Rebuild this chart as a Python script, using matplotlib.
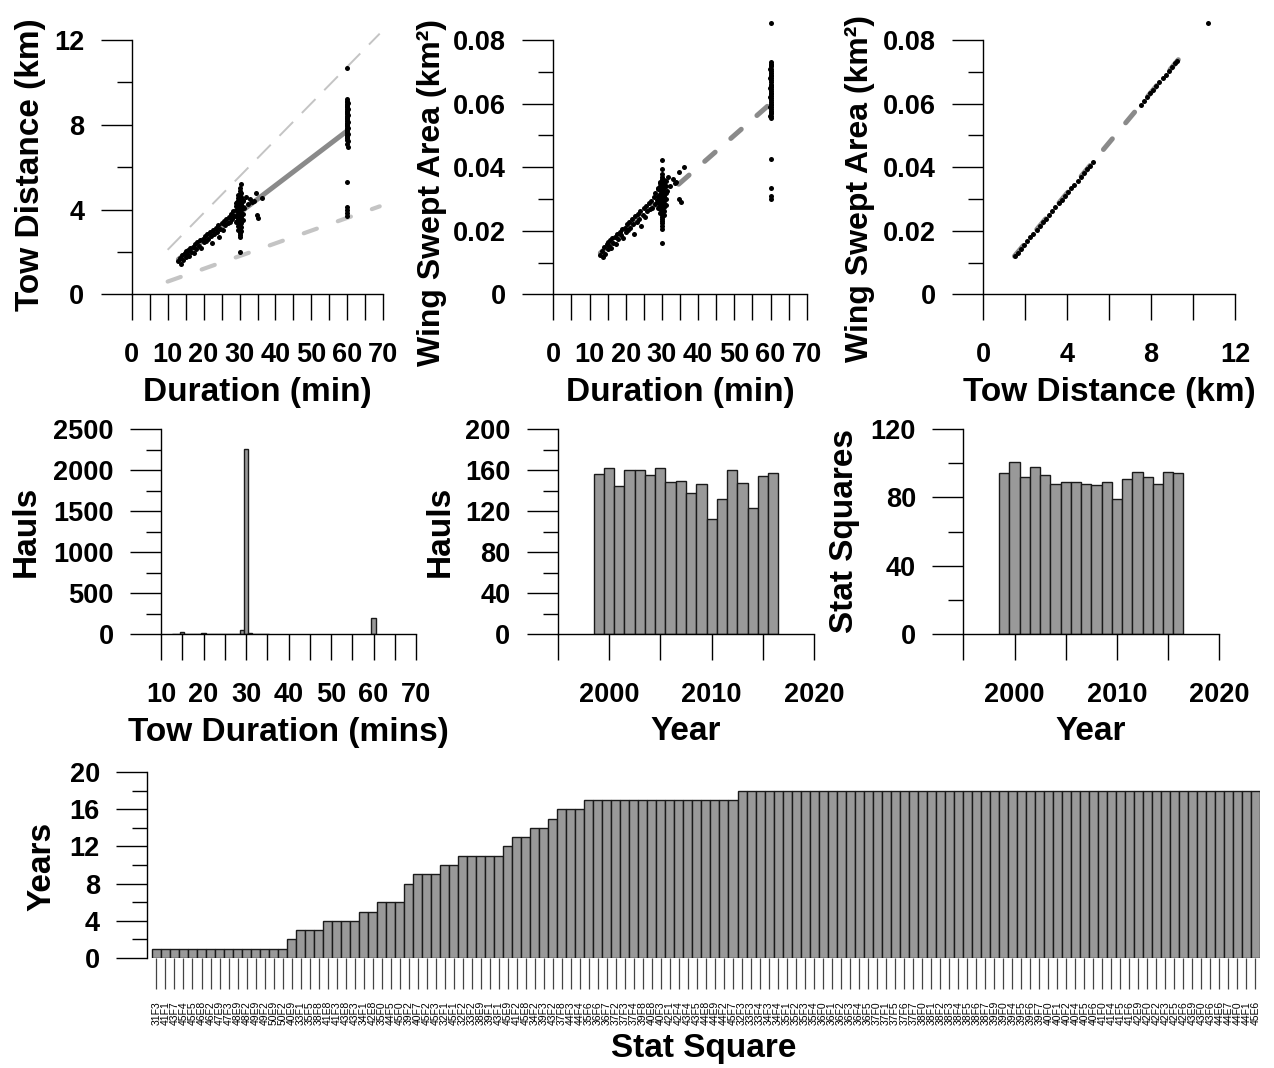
import matplotlib

matplotlib.use("Agg")
import matplotlib.pyplot as plt

FIG_W, FIG_H = 1274, 1068
BAR_FILL = "#999999"
BAR_EDGE = "#1a1a1a"
FIT_GREY = "#8a8a8a"
BOUND_GREY = "#c4c4c4"

# ---- hauls of 13-36 min: duration, tow distance and wing swept area ----
trend_minutes = [13.0, 13.4, 13.8, 14.0, 14.3, 14.7, 15.0, 15.0, 15.4, 15.8, 16.0, 16.3, 16.6,
                 17.0, 17.2, 17.6, 18.0, 18.3, 18.7, 19.0, 19.3, 19.7, 20.0, 20.3, 20.6, 21.0,
                 21.3, 21.7, 22.0, 22.4, 22.7, 23.0, 23.4, 23.8, 24.0, 24.3, 24.7, 25.0, 25.3,
                 25.7, 26.0, 26.3, 26.7, 27.0, 27.3, 27.7, 28.0, 28.2, 28.6, 28.9, 29.2, 29.4,
                 31.0, 31.3, 31.8, 32.3, 34.8, 33.0, 33.5, 34.6, 34.0, 35.2, 36.2]
trend_km = [1.55, 1.70, 1.45, 1.85, 1.60, 1.95, 1.75, 2.05, 1.90, 2.10, 1.80, 2.20, 2.00,
            2.25, 1.95, 2.35, 2.15, 2.45, 2.30, 2.55, 2.20, 2.60, 2.45, 2.75, 2.50, 2.85,
            2.60, 2.95, 2.75, 2.40, 3.05, 2.85, 3.15, 2.95, 3.25, 2.70, 3.10, 3.35, 3.05,
            3.45, 3.25, 3.55, 3.35, 3.65, 3.40, 3.80, 3.55, 3.95, 3.70, 4.15, 3.45, 4.35,
            4.45, 4.05, 4.60, 4.25, 3.75, 4.50, 4.35, 4.80, 4.40, 3.60, 4.55]
trend_area = [0.0124, 0.0136, 0.0118, 0.0150, 0.0128, 0.0157, 0.0141, 0.0163, 0.0152, 0.0170,
              0.0145, 0.0178, 0.0160, 0.0181, 0.0158, 0.0190, 0.0173, 0.0197, 0.0186, 0.0205,
              0.0177, 0.0210, 0.0196, 0.0221, 0.0202, 0.0229, 0.0209, 0.0238, 0.0220, 0.0190,
              0.0246, 0.0228, 0.0254, 0.0236, 0.0262, 0.0216, 0.0249, 0.0270, 0.0244, 0.0278,
              0.0261, 0.0286, 0.0268, 0.0294, 0.0272, 0.0306, 0.0284, 0.0318, 0.0297, 0.0334,
              0.0276, 0.0350, 0.0358, 0.0324, 0.0370, 0.0342, 0.0300, 0.0362, 0.0349, 0.0386,
              0.0353, 0.0290, 0.0400]

# hauls of ~30 min, stacked in narrow columns
col30_minutes = [29.0, 29.5, 30.0, 30.5, 31.0]
col30_km = [
    [3.40, 3.70, 4.00, 4.30],
    [3.05, 3.20, 3.35, 3.50, 3.62, 3.75, 3.88, 3.90, 4.00, 4.12, 4.25, 4.40, 4.55, 4.70],
    [2.00, 2.72, 2.80, 2.88, 2.95, 3.02, 3.10, 3.17, 3.25, 3.33, 3.40, 3.48, 3.55, 3.63, 3.70,
     3.78, 3.85, 3.93, 4.00, 4.08, 4.16, 4.24, 4.33, 4.42, 4.52, 4.63, 4.75, 4.88, 5.00],
    [3.00, 3.18, 3.35, 3.52, 3.60, 3.68, 3.82, 3.96, 4.10, 4.25, 4.40, 4.58, 4.76, 5.20],
    [3.50, 3.80, 4.10, 4.40],
]
col30_area = [
    [0.0270, 0.0290, 0.0310, 0.0330],
    [0.0255, 0.0268, 0.0280, 0.0292, 0.0304, 0.0316, 0.0328, 0.0340, 0.0352],
    [0.0162, 0.0205, 0.0215, 0.0225, 0.0232, 0.0238, 0.0244, 0.0250, 0.0256, 0.0262, 0.0268,
     0.0274, 0.0280, 0.0286, 0.0292, 0.0298, 0.0304, 0.0310, 0.0316, 0.0322, 0.0328, 0.0334,
     0.0340, 0.0347, 0.0354, 0.0362, 0.0370, 0.0378, 0.0395, 0.0422],
    [0.0250, 0.0262, 0.0274, 0.0286, 0.0298, 0.0310, 0.0322, 0.0334, 0.0346, 0.0360],
    [0.0280, 0.0300, 0.0320, 0.0340],
]

# hauls of ~60 min
col60_minutes = [59.8, 60.0, 60.2]
col60_km = [
    [7.10, 7.40, 7.70, 8.00, 8.30, 8.60, 8.90],
    [3.70, 3.85, 4.00, 4.10, 5.30, 7.30, 7.38, 7.46, 7.54, 7.62, 7.70, 7.78, 7.86, 7.94, 8.02,
     8.10, 8.18, 8.26, 8.34, 8.42, 8.50, 8.58, 8.66, 8.74, 8.82, 8.90, 8.98, 9.06, 9.14, 9.20,
     10.70],
    [6.95, 7.25, 7.55, 7.85, 8.15, 8.45, 8.75, 9.05],
]
col60_area = [
    [0.0560, 0.0590, 0.0620, 0.0650, 0.0680, 0.0710],
    [0.0300, 0.0309, 0.0334, 0.0427, 0.0555, 0.0562, 0.0569, 0.0576, 0.0583, 0.0590, 0.0597,
     0.0604, 0.0611, 0.0618, 0.0625, 0.0632, 0.0639, 0.0646, 0.0653, 0.0660, 0.0667, 0.0674,
     0.0681, 0.0688, 0.0695, 0.0702, 0.0710, 0.0718, 0.0726, 0.0732, 0.0855],
    [0.0570, 0.0600, 0.0630, 0.0660, 0.0690, 0.0720],
]

# fitted and bounding lines
fit_minutes = [13.0, 60.0]
fit_km = [1.65, 7.72]
fit_area = [0.0130, 0.0600]
bound_minutes = [10.0, 69.0]
upper_km = [2.10, 12.30]
lower_km = [0.60, 4.15]

# swept area against tow distance
dist_km = [1.50, 1.65, 1.80, 1.95, 2.10, 2.25, 2.40, 2.55, 2.70, 2.85, 3.00, 3.15, 3.30, 3.45,
           3.60, 3.75, 3.90, 4.05, 4.20, 4.35, 4.50, 4.65, 4.80, 4.95, 5.10, 5.25,
           7.50, 7.65, 7.80, 7.95, 8.10, 8.25, 8.40, 8.55, 8.70, 8.85, 9.00, 9.15, 9.25, 10.70]
dist_area = [0.0120, 0.0131, 0.0143, 0.0155, 0.0167, 0.0179, 0.0191, 0.0203, 0.0214, 0.0226,
             0.0238, 0.0250, 0.0262, 0.0274, 0.0286, 0.0298, 0.0310, 0.0322, 0.0334, 0.0345,
             0.0357, 0.0369, 0.0381, 0.0393, 0.0405, 0.0417,
             0.0596, 0.0608, 0.0620, 0.0632, 0.0644, 0.0656, 0.0667, 0.0679, 0.0691, 0.0703,
             0.0715, 0.0727, 0.0735, 0.0855]
dist_fit_km = [1.50, 9.30]
dist_fit_area = [0.0120, 0.0738]

# tow duration histogram
hist_minutes = [13, 14, 15, 16, 17, 18, 19, 20, 21, 22, 23, 24, 25, 26, 27, 28, 29, 30,
                31, 32, 33, 34, 35, 60]
hist_hauls = [3, 6, 32, 8, 6, 5, 4, 12, 5, 6, 4, 5, 9, 5, 6, 8, 50, 2260, 10, 6, 4, 3, 2, 203]

# per-year counts
years = [1999, 2000, 2001, 2002, 2003, 2004, 2005, 2006, 2007, 2008, 2009, 2010, 2011, 2012,
         2013, 2014, 2015, 2016]
hauls_per_year = [156, 162, 144, 160, 160, 155, 162, 148, 149, 138, 146, 112, 132, 160, 147,
                  123, 154, 157]
squares_per_year = [94, 101, 92, 98, 93, 88, 89, 89, 88, 87, 89, 79, 91, 95, 92, 88, 95, 94]

# years in which each ICES statistical square was sampled
stat_squares = [
    "31F3", "41F1", "43F7", "45F4", "45F5", "46E8", "46F2", "47E9", "47F3", "48E9", "48F2",
    "49E9", "49F2", "50E9", "50F2", "40E9", "33F1", "35F5", "38F8", "41E8", "41F3", "43E8",
    "43F3", "34F1", "42E8", "35F0", "44F5", "45F0", "39F2", "40F7", "45F2", "45F3", "32F1",
    "45F1", "32F2", "33F2", "38E9", "39F1", "43F1", "45E9", "41F2", "45E8", "34F2", "39F3",
    "43F2", "37F8", "44F3", "44F4", "35F6", "36F6", "36F7", "37F2", "37F3", "37F4", "39F8",
    "40E8", "40F3", "42F1", "42F4", "43F4", "43F5", "44E8", "44E9", "44F2", "45F7",
    "32F3", "33F3", "33F4", "34F3", "34F4", "35F1", "35F2", "35F3", "35F4", "36F0", "36F1",
    "36F2", "36F3", "36F4", "36F5", "37F0", "37F1", "37F5", "37F6", "37F7", "38F0", "38F1",
    "38F2", "38F3", "38F4", "38F5", "38F6", "38F7", "39E9", "39F0", "39F4", "39F5", "39F6",
    "39F7", "40F0", "40F1", "40F2", "40F4", "40F5", "40F6", "41F0", "41F4", "41F5", "41F6",
    "42E9", "42F0", "42F2", "42F3", "42F5", "42F6", "43E9", "43F0", "43F6", "44E6", "44E7",
    "44F0", "44F1", "45E6",
]
years_sampled = [
    1, 1, 1, 1, 1, 1, 1, 1, 1, 1, 1, 1, 1, 1, 1, 2, 3, 3, 3, 4, 4, 4, 4, 5, 5, 6, 6, 6, 8,
    9, 9, 9, 10, 10, 11, 11, 11, 11, 11, 12, 13, 13, 14, 14, 15, 16, 16, 16,
    17, 17, 17, 17, 17, 17, 17, 17, 17, 17, 17, 17, 17, 17, 17, 17, 17,
    18, 18, 18, 18, 18, 18, 18, 18, 18, 18, 18, 18, 18, 18, 18, 18, 18, 18, 18, 18,
    18, 18, 18, 18, 18, 18, 18, 18, 18, 18, 18, 18, 18, 18, 18, 18, 18, 18, 18, 18,
    18, 18, 18, 18, 18, 18, 18, 18, 18, 18, 18, 18, 18, 18, 18, 18, 18, 18,
]


def px_axes(fig, left, right, top, bottom):
    return fig.add_axes([left / FIG_W, 1 - bottom / FIG_H, (right - left) / FIG_W, (bottom - top) / FIG_H])


def px_text(fig, x, y, text, rotation=0, size=24):
    fig.text(x / FIG_W, 1 - y / FIG_H, text, ha="center", va="center", rotation=rotation,
             fontsize=size, fontweight="bold")


def r_axes(ax, xlim, ylim, xmajor, xlabels, xminor, ymajor, ylabels, yminor):
    ax.set_xlim(*xlim)
    ax.set_ylim(*ylim)
    ax.spines["top"].set_visible(False)
    ax.spines["right"].set_visible(False)
    for side in ("left", "bottom"):
        ax.spines[side].set_linewidth(1.0)
    ax.set_xticks(xmajor, xlabels)
    ax.set_xticks(xminor, minor=True)
    ax.set_yticks(ymajor, ylabels)
    ax.set_yticks(yminor, minor=True)
    ax.tick_params(axis="y", which="major", length=22, width=1.0, pad=12, labelsize=19.5)
    ax.tick_params(axis="y", which="minor", length=11, width=1.0)
    ax.tick_params(axis="x", which="both", length=19, width=1.0, pad=15, labelsize=19.5)


def scatter(ax, x, y):
    ax.plot(x, y, "o", ms=3.6, color="black", mec="none", clip_on=False, zorder=3)


plt.rcParams["font.family"] = ["Liberation Sans", "DejaVu Sans"]
plt.rcParams["font.weight"] = "bold"
plt.rcParams["lines.scale_dashes"] = False

fig = plt.figure(figsize=(FIG_W / 100, FIG_H / 100), dpi=100)

minute_ticks = [0, 10, 20, 30, 40, 50, 60, 70]
minute_minor = [5, 15, 25, 35, 45, 55, 65]

# duration vs tow distance
ax1 = px_axes(fig, 131.7, 383.3, 40, 294.3)
ax1.plot(bound_minutes, upper_km, color=BOUND_GREY, lw=1.4, dashes=(14, 9), clip_on=False)
ax1.plot(bound_minutes, lower_km, color=BOUND_GREY, lw=3.0, dashes=(10, 16), dash_capstyle="round")
ax1.plot(fit_minutes, fit_km, color=FIT_GREY, lw=3.6, solid_capstyle="round")
scatter(ax1, trend_minutes, trend_km)
for m, ys in zip(col30_minutes, col30_km):
    scatter(ax1, [m] * len(ys), ys)
for m, ys in zip(col60_minutes, col60_km):
    scatter(ax1, [m] * len(ys), ys)
r_axes(ax1, (0, 70), (0, 12), minute_ticks, [str(v) for v in minute_ticks], minute_minor,
       [0, 4, 8, 12], ["0", "4", "8", "12"], [2, 6, 10])
px_text(fig, 257, 392, "Duration (min)")
px_text(fig, 31, 165, "Tow Distance (km)", rotation=90)

# duration vs swept area
ax2 = px_axes(fig, 553.3, 806.7, 40, 294.3)
ax2.plot(fit_minutes, fit_area, color=FIT_GREY, lw=3.6, dashes=(10, 15), dash_capstyle="round")
scatter(ax2, trend_minutes, trend_area)
for m, ys in zip(col30_minutes, col30_area):
    scatter(ax2, [m] * len(ys), ys)
for m, ys in zip(col60_minutes, col60_area):
    scatter(ax2, [m] * len(ys), ys)
r_axes(ax2, (0, 70), (0, 0.08), minute_ticks, [str(v) for v in minute_ticks], minute_minor,
       [0, 0.02, 0.04, 0.06, 0.08], ["0", "0.02", "0.04", "0.06", "0.08"], [0.01, 0.03, 0.05, 0.07])
px_text(fig, 680, 392, "Duration (min)")
px_text(fig, 432, 192, "Wing Swept Area (km²)", rotation=90, size=23)

# tow distance vs swept area
ax3 = px_axes(fig, 983, 1235, 40, 294.3)
ax3.plot(dist_fit_km, dist_fit_area, color=FIT_GREY, lw=3.6, dashes=(10, 15), dash_capstyle="round")
scatter(ax3, dist_km, dist_area)
r_axes(ax3, (0, 12), (0, 0.08), [0, 4, 8, 12], ["0", "4", "8", "12"], [2, 6, 10],
       [0, 0.02, 0.04, 0.06, 0.08], ["0", "0.02", "0.04", "0.06", "0.08"], [0.01, 0.03, 0.05, 0.07])
px_text(fig, 1109, 392, "Tow Distance (km)")
px_text(fig, 860, 188, "Wing Swept Area (km²)", rotation=90, size=23)

# tow duration histogram
ax4 = px_axes(fig, 161, 416, 429, 634.3)
ax4.bar(hist_minutes, hist_hauls, width=1.0, color=BAR_FILL, edgecolor=BAR_EDGE, linewidth=1.0)
r_axes(ax4, (10, 70), (0, 2500), [10, 20, 30, 40, 50, 60, 70],
       ["10", "20", "30", "40", "50", "60", "70"], [15, 25, 35, 45, 55, 65],
       [0, 500, 1000, 1500, 2000, 2500], ["0", "500", "1000", "1500", "2000", "2500"],
       [250, 750, 1250, 1750, 2250])
px_text(fig, 288, 732, "Tow Duration (mins)")
px_text(fig, 26, 531, "Hauls", rotation=90)

year_ticks = [2000, 2010, 2020]
year_minor = [1995, 2005, 2015]

# hauls per year
ax5 = px_axes(fig, 557.7, 814.3, 429, 634.3)
ax5.bar(years, hauls_per_year, width=1.0, color=BAR_FILL, edgecolor=BAR_EDGE, linewidth=1.0)
r_axes(ax5, (1995, 2020), (0, 200), year_ticks, ["2000", "2010", "2020"], year_minor,
       [0, 40, 80, 120, 160, 200], ["0", "40", "80", "120", "160", "200"], [20, 60, 100, 140, 180])
px_text(fig, 686, 732, "Year")
px_text(fig, 440, 531, "Hauls", rotation=90)

# stat squares per year
ax6 = px_axes(fig, 963.3, 1219.3, 429, 634.3)
ax6.bar(years, squares_per_year, width=1.0, color=BAR_FILL, edgecolor=BAR_EDGE, linewidth=1.0)
r_axes(ax6, (1995, 2020), (0, 120), year_ticks, ["2000", "2010", "2020"], year_minor,
       [0, 40, 80, 120], ["0", "40", "80", "120"], [20, 60, 100])
px_text(fig, 1091, 732, "Year")
px_text(fig, 845, 531, "Stat Squares", rotation=90)

# years sampled per stat square
ax7 = px_axes(fig, 147, 1260, 772, 958)
positions = list(range(len(stat_squares)))
ax7.bar(positions, years_sampled, width=1.0, color=BAR_FILL, edgecolor=BAR_EDGE, linewidth=1.0)
r_axes(ax7, (-1.05, len(stat_squares) - 0.5), (0, 20), positions, stat_squares, [],
       [0, 4, 8, 12, 16, 20], ["0", "4", "8", "12", "16", "20"], [2, 6, 10, 14, 18])
ax7.spines["bottom"].set_visible(False)
ax7.tick_params(axis="x", which="major", length=22, width=0.9, color="#444444", pad=9,
                labelsize=7.5, labelrotation=90)
for label in ax7.get_xticklabels():
    label.set_fontweight("normal")
px_text(fig, 704, 1048, "Stat Square")
px_text(fig, 42, 866, "Years", rotation=90)

fig.savefig("out.png", dpi=100)
